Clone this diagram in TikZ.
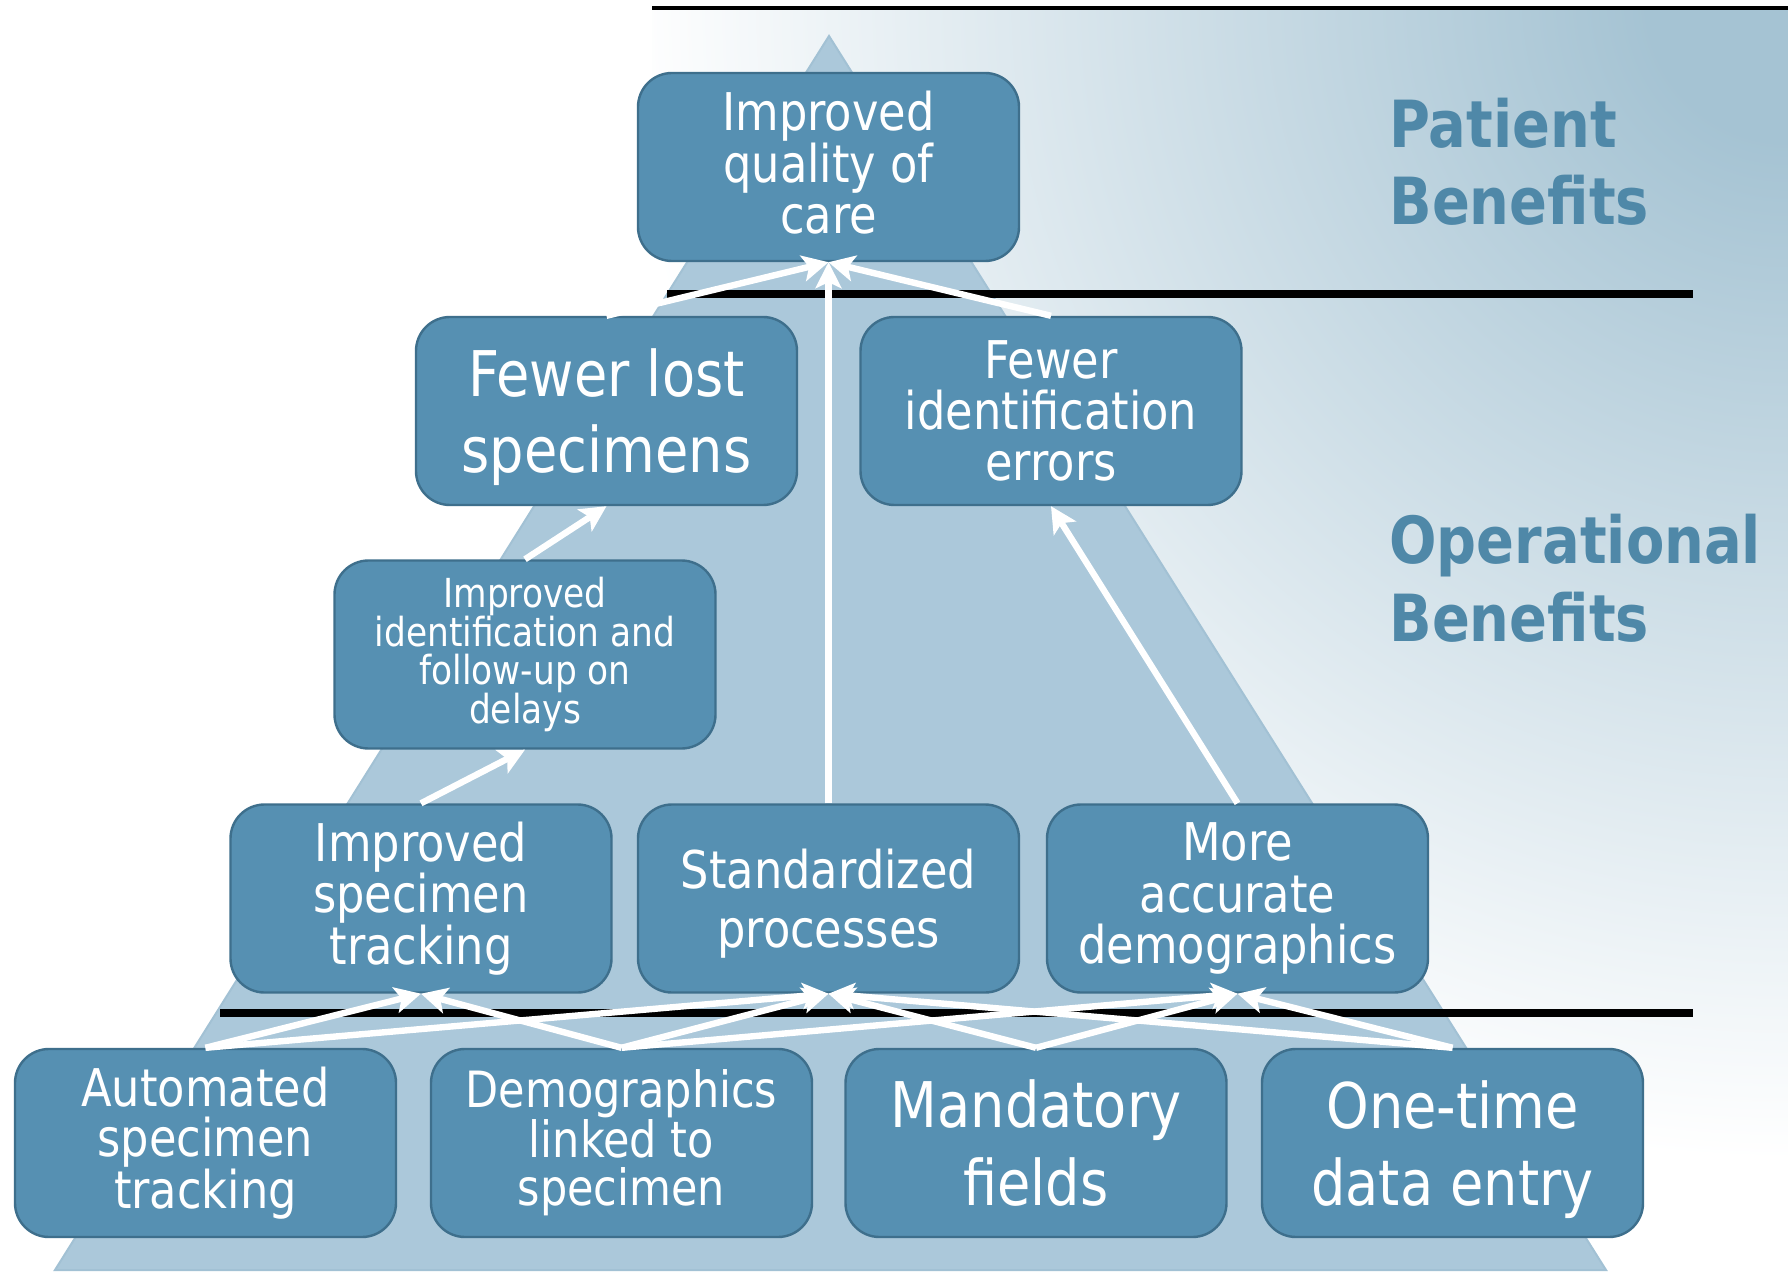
\documentclass[tikz,border=0pt]{standalone}
\usepackage{fontspec}
\setmainfont{DejaVu Sans}[FakeStretch=0.86]
\usetikzlibrary{arrows.meta}
\definecolor{boxfill}{HTML}{5690B2}
\definecolor{boxline}{HTML}{3E6F8C}
\definecolor{pyr}{HTML}{ABC8DA}
\definecolor{pyredge}{HTML}{A2C1D4}
\definecolor{lbl}{HTML}{4F88A8}
\definecolor{grad}{HTML}{A5C3D3}
\pgfdeclareradialshading{bgglow}{\pgfpoint{0bp}{0bp}}{color(0bp)=(grad); color(3bp)=(grad); color(25bp)=(white); color(50bp)=(white)}
\begin{document}
\begin{tikzpicture}[x=0.5pt,y=-0.5pt,
  box/.style={draw=boxline, line width=1.2pt, fill=boxfill, rounded corners=17pt,
    minimum width=190.5pt, minimum height=94pt, inner sep=0pt, align=center, text=white},
  arr/.style={draw=white, line width=3.2pt, -{Stealth[length=13pt,width=13pt,inset=3pt]}},
  sidelbl/.style={text=lbl, font=\bfseries\fontsize{32.5pt}{38pt}\selectfont, anchor=base west, inner sep=0pt},
  rule/.style={line width=4pt, black}
]
\useasboundingbox (0,0) rectangle (1788,1272);
\fill[white] (0,0) rectangle (1788,1272);
\begin{scope}
  \clip (652,10) rectangle (1788,1272);
  \shade[shading=bgglow] (1788,0) circle [radius=580pt];
\end{scope}
% pyramid
\fill[pyr] (829,36) -- (1606,1270) -- (55,1270) -- cycle;
\draw[pyredge, line width=1pt] (829,36) -- (1606,1270) -- (55,1270) -- cycle;
% separator lines
\draw[line width=1.8pt] (652,8) -- (1788,8);
\draw[rule] (667,294) -- (1693,294);
\draw[rule] (220,1013) -- (1693,1013);
% side labels
\node[sidelbl] (pat1) at (1389,148) {Patient};
\node[sidelbl] (pat2) at (1389,225) {Benefits};
\node[sidelbl] (op1) at (1389,564) {Operational};
\node[sidelbl] (op2) at (1389,641) {Benefits};
% boxes
\node[box, font=\fontsize{26pt}{25.6pt}\selectfont, text depth=4.6pt] (care) at (828.5,167) {Improved\\quality of\\care};
\node[box, font=\fontsize{31.5pt}{38pt}\selectfont, text depth=0pt] (lost) at (606.5,411) {Fewer lost\\specimens};
\node[box, font=\fontsize{26pt}{25.4pt}\selectfont] (iderr) at (1051,411) {Fewer\\identification\\errors};
\node[box, font=\fontsize{20pt}{19.4pt}\selectfont] (follow) at (525,654.5) {Improved\\identification and\\follow-up on\\delays};
\node[box, font=\fontsize{26pt}{25.6pt}\selectfont] (imptrack) at (421,898.5) {Improved\\specimen\\tracking};
\node[box, font=\fontsize{26pt}{29.6pt}\selectfont, text depth=0.5pt] (std) at (828.5,898.5) {Standardized\\processes};
\node[box, font=\fontsize{26pt}{25.6pt}\selectfont] (demo) at (1237.5,898.5) {More\\accurate\\demographics};
\node[box, font=\fontsize{26pt}{25pt}\selectfont] (auto) at (205.5,1143) {Automated\\specimen\\tracking};
\node[box, font=\fontsize{25pt}{24pt}\selectfont] (link) at (621.5,1143) {Demographics\\linked to\\specimen};
\node[box, font=\fontsize{31.5pt}{38.8pt}\selectfont] (mand) at (1036,1143) {Mandatory\\fields};
\node[box, font=\fontsize{31.5pt}{38.8pt}\selectfont, text depth=0pt] (once) at (1452.5,1143) {One-time\\data entry};
% arrows
\draw[arr] (lost.north) -- (care.south);
\draw[arr] (std.north) -- (care.south);
\draw[arr] (iderr.north) -- (care.south);
\draw[arr] (follow.north) -- (lost.south);
\draw[arr] (imptrack.north) -- (follow.south);
\draw[arr] (demo.north) -- (iderr.south);
\draw[arr] (auto.north) -- (imptrack.south);
\draw[arr] (auto.north) -- (std.south);
\draw[arr] (link.north) -- (imptrack.south);
\draw[arr] (link.north) -- (std.south);
\draw[arr] (link.north) -- (demo.south);
\draw[arr] (mand.north) -- (std.south);
\draw[arr] (mand.north) -- (demo.south);
\draw[arr] (once.north) -- (std.south);
\draw[arr] (once.north) -- (demo.south);
\end{tikzpicture}
\end{document}
